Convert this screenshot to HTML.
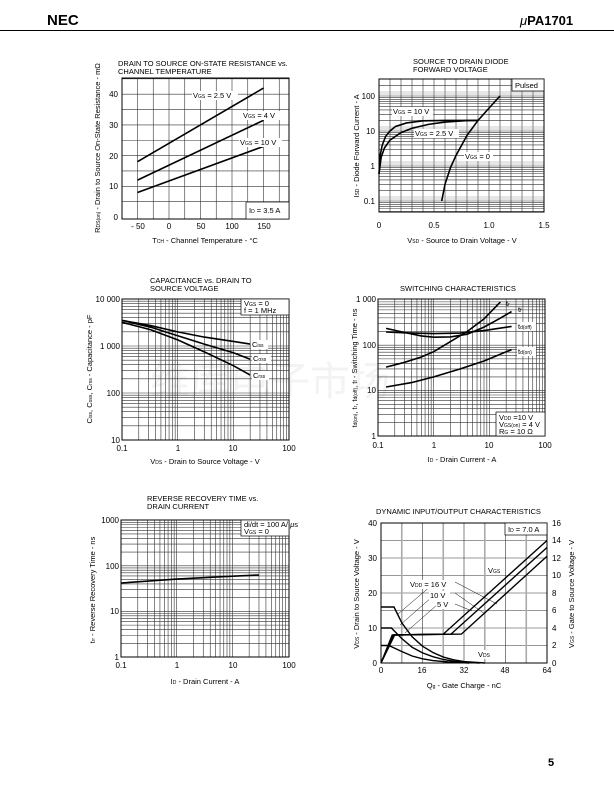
<!DOCTYPE html>
<html><head><meta charset="utf-8"><style>
html,body{margin:0;padding:0;background:#fff}
svg{display:block;font-family:"Liberation Sans",Arial,sans-serif}
</style></head><body>
<svg width="614" height="792" viewBox="0 0 614 792" xmlns="http://www.w3.org/2000/svg">
<rect width="614" height="792" fill="#fff"/>
<text x="150" y="395" font-family="'Noto Sans CJK SC',sans-serif" font-size="40" fill="#f3f3f3">维库电子市场</text>

<g fill="none" stroke="#333" stroke-width="0.6">
<!-- Chart1 grid -->
<path d="M137.5,78V219M153.25,78V219M169,78V219M184.75,78V219M200.5,78V219M216.25,78V219M232,78V219M247.75,78V219M263.5,78V219M279.25,78V219
M122,201.65H289M122,186.3H289M122,170.95H289M122,155.6H289M122,140.25H289M122,124.9H289M122,109.55H289M122,94.2H289M122,78.85H289"/>
<!-- Chart2 grid -->
<path d="M390,79V212M401,79V212M412,79V212M423,79V212M434,79V212M445,79V212M456,79V212M467,79V212M478,79V212M489,79V212M500,79V212M511,79V212M522,79V212M533,79V212
M379,211.5H544M379,208.76H544M379,206.42H544M379,204.39H544M379,202.6H544M379,201H544M379,190.46H544M379,184.3H544M379,179.93H544M379,176.54H544M379,173.76H544M379,171.42H544M379,169.39H544M379,167.6H544
M379,166H544M379,155.46H544M379,149.3H544M379,144.93H544M379,141.54H544M379,138.76H544M379,136.42H544M379,134.39H544M379,132.6H544
M379,131H544M379,120.46H544M379,114.3H544M379,109.93H544M379,106.54H544M379,103.76H544M379,101.42H544M379,99.39H544M379,97.6H544M379,96H544M379,85.46H544"/>
<!-- Chart3 grid -->
<path d="M138.77,299V440M148.57,299V440M155.53,299V440M160.93,299V440M165.34,299V440M169.07,299V440M172.3,299V440M175.15,299V440M177.7,299V440M194.47,299V440M204.27,299V440M211.23,299V440M216.63,299V440M221.04,299V440M224.77,299V440M228,299V440M230.85,299V440M233.4,299V440M250.17,299V440M259.97,299V440M266.93,299V440M272.33,299V440M276.74,299V440M280.47,299V440M283.7,299V440M286.55,299V440
M122,425.85H289M122,417.58H289M122,411.7H289M122,407.15H289M122,403.43H289M122,400.28H289M122,397.56H289M122,395.15H289M122,393H289M122,378.85H289M122,370.58H289M122,364.7H289M122,360.15H289M122,356.43H289M122,353.28H289M122,350.56H289M122,348.15H289M122,346H289M122,331.85H289M122,323.58H289M122,317.7H289M122,313.15H289M122,309.43H289M122,306.28H289M122,303.56H289M122,301.15H289"/>
<!-- Chart4 grid -->
<path d="M394.77,299V436M404.57,299V436M411.53,299V436M416.93,299V436M421.34,299V436M425.07,299V436M428.3,299V436M431.15,299V436M433.7,299V436M450.47,299V436M460.27,299V436M467.23,299V436M472.63,299V436M477.04,299V436M480.77,299V436M484,299V436M486.85,299V436M489.4,299V436M506.17,299V436M515.97,299V436M522.93,299V436M528.33,299V436M532.74,299V436M536.47,299V436M539.7,299V436M542.55,299V436
M378,422.33H545M378,414.34H545M378,408.67H545M378,404.27H545M378,400.67H545M378,397.63H545M378,395H545M378,392.68H545M378,390.6H545M378,376.93H545M378,368.94H545M378,363.27H545M378,358.87H545M378,355.27H545M378,352.23H545M378,349.6H545M378,347.28H545M378,345.2H545M378,331.53H545M378,323.54H545M378,317.87H545M378,313.47H545M378,309.87H545M378,306.83H545M378,304.2H545M378,301.88H545"/>
<!-- Chart5 grid -->
<path d="M137.77,520V657M147.57,520V657M154.53,520V657M159.93,520V657M164.34,520V657M168.07,520V657M171.3,520V657M174.15,520V657M176.7,520V657M193.47,520V657M203.27,520V657M210.23,520V657M215.63,520V657M220.04,520V657M223.77,520V657M227,520V657M229.85,520V657M232.4,520V657M249.17,520V657M258.97,520V657M265.93,520V657M271.33,520V657M275.74,520V657M279.47,520V657M282.7,520V657M285.55,520V657
M121,643.27H289M121,635.24H289M121,629.55H289M121,625.13H289M121,621.52H289M121,618.46H289M121,615.82H289M121,613.49H289M121,611.4H289M121,597.67H289M121,589.64H289M121,583.95H289M121,579.53H289M121,575.92H289M121,572.86H289M121,570.22H289M121,567.89H289M121,565.8H289M121,552.07H289M121,544.04H289M121,538.35H289M121,533.93H289M121,530.32H289M121,527.26H289M121,524.62H289M121,522.29H289"/>
<!-- Chart6 grid -->
<path d="M422.5,523V663M464,523V663M505.5,523V663
M381,645.5H547M381,628H547M381,610.5H547M381,593H547M381,575.5H547M381,558H547M381,540.5H547"/>
<path stroke="#aaa" stroke-width="1.6" d="M401.75,523V663M443.26,523V663M484.76,523V663M526.26,523V663"/>
</g>
<!-- grey decade-adjacent bands -->
<g fill="none" stroke="#999" stroke-width="0.6">
<path d="M379,94H544M379,92H544M379,129H544M379,127H544M379,164H544M379,162H544M379,199H544M379,197H544"/>
</g>
<!-- frames -->
<g fill="none" stroke="#000" stroke-width="1">
<rect x="122" y="78" width="167" height="141"/>
<rect x="379" y="79" width="165" height="133"/>
<rect x="122" y="299" width="167" height="141"/>
<rect x="378" y="299" width="167" height="137"/>
<rect x="121" y="520" width="168" height="137"/>
<rect x="381" y="523" width="166" height="140"/>
</g>
<!-- curves -->
<g fill="none" stroke="#000" stroke-width="1.6">
<path d="M137.5,161.74L263.5,88.06M137.5,180.16L263.5,120.3M137.5,192.44L263.5,146.39"/>
<path d="M379,173.76L380.1,155.46L382.3,144.93L385.6,136.42L390,131L395.5,126.44L406.5,122.93L423,120.85L445,120.46L478,120.46"/>
<path d="M379,173.76L381.2,157.06L384.5,147.85L390,140.09L401,132.6L412,128.23L428.5,124.35L445,122.06L467,120.6L478,120.46"/>
<path d="M441.7,201L445,184.3L450.5,167.6L456,155.46L467,135.37L478,120.46L489,108.14L500,96"/>
<path d="M122,320.4L151.1,325.7L177.7,331.9L204.3,337.1L233.4,341.4L250.2,344.1"/>
<path d="M122,320.4L151.1,327.3L177.7,335.8L204.3,344.1L233.4,352.7L250.2,359.3"/>
<path d="M122,322.3L151.1,329.9L177.7,339.9L204.3,351.9L233.4,365.7L250.2,375.1"/>
<path d="M386.1,367.1L404.6,362.3L421.3,357L433.7,351.7L450.5,341.6L467.2,331.5L484,318.9L500.4,301.9"/>
<path d="M386.1,328.4L404.6,332.5L421.3,335.9L433.7,337.2L450.5,336.9L467.2,334.2L484,327.1L498.9,318.9L511.6,311.6"/>
<path d="M386.1,332L404.6,332.8L433.7,333.6L460.3,333.1L484,330.6L511.6,326.4"/>
<path d="M386.1,387L411.5,382.6L433.7,376.9L460.3,368.9L484,361L511.6,349.6"/>
<path d="M121,583L176.7,579.1L232.4,576.2L259,575"/>
<g stroke-width="1.4">
<path d="M381,663L392.2,635L443.3,634.1L547,540.5"/>
<path d="M381,663L393.5,635L451,634.1L547,547.5"/>
<path d="M381,663L394.7,635L461.4,634.1L547,556.25"/>
<path d="M381,607H394C398,615 401.75,622.75 401.75,622.75L412.1,636.75L422.5,646.2L432.9,652.5L443.3,657.05L453.6,659.85L464,661.6L484.8,663"/>
<path d="M381,628H391.4L401.75,638.5L412.1,647.25L422.5,652.85L432.9,656.7L443.3,659.5L453.6,661.25L464,662.3L479.6,663"/>
<path d="M381,645.5H388.8L401.75,651.45L412.1,656L422.5,658.8L432.9,660.55L448.4,662L469.2,663"/>
</g>
</g>
<g stroke="#000" stroke-width="0.5"><line x1="432" y1="585" x2="398" y2="614"/><line x1="432" y1="597" x2="400" y2="625"/><line x1="438" y1="604" x2="405" y2="633"/><line x1="455" y1="582" x2="497" y2="604"/><line x1="455" y1="593" x2="485" y2="614"/><line x1="455" y1="604" x2="472" y2="611"/></g>

<!-- header -->
<text x="47" y="25" font-size="15" font-weight="bold">NEC</text>
<text x="520" y="25" font-size="13" font-weight="bold"><tspan font-style="italic" font-weight="normal">μ</tspan>PA1701</text>
<line x1="0" y1="30.5" x2="614" y2="30.5" stroke="#000" stroke-width="1"/>
<text x="548" y="766" font-size="11" font-weight="bold">5</text>

<g font-size="7.5" fill="#000">
<text x="118" y="66">DRAIN TO SOURCE ON-STATE RESISTANCE vs.</text>
<text x="118" y="74">CHANNEL TEMPERATURE</text>
<g text-anchor="end" font-size="8"><text x="118" y="97">40</text><text x="118" y="128">30</text><text x="118" y="159">20</text><text x="118" y="189">10</text><text x="118" y="220">0</text></g>
<g text-anchor="middle" font-size="8"><text x="138" y="229">- 50</text><text x="169" y="229">0</text><text x="201" y="229">50</text><text x="232" y="229">100</text><text x="264" y="229">150</text></g>
<text x="205" y="243" text-anchor="middle">T<tspan font-size="5">CH</tspan> - Channel Temperature - °C</text>
<text transform="translate(100,148) rotate(-90)" text-anchor="middle">R<tspan font-size="5">DS(on)</tspan> - Drain to Source On-State Resistance - mΩ</text>

<text x="413" y="64">SOURCE TO DRAIN DIODE</text>
<text x="413" y="72">FORWARD VOLTAGE</text>
<g text-anchor="end" font-size="8"><text x="375" y="99">100</text><text x="375" y="134">10</text><text x="375" y="169">1</text><text x="375" y="204">0.1</text></g>
<g text-anchor="middle" font-size="8"><text x="379" y="228">0</text><text x="434" y="228">0.5</text><text x="489" y="228">1.0</text><text x="544" y="228">1.5</text></g>
<text x="462" y="243" text-anchor="middle">V<tspan font-size="5">SD</tspan> - Source to Drain Voltage - V</text>
<text transform="translate(359,146) rotate(-90)" text-anchor="middle">I<tspan font-size="5">SD</tspan> - Diode Forward Current - A</text>

<text x="150" y="283">CAPACITANCE vs. DRAIN TO</text>
<text x="150" y="291">SOURCE VOLTAGE</text>
<g text-anchor="end" font-size="8"><text x="120" y="302">10 000</text><text x="120" y="349">1 000</text><text x="120" y="396">100</text><text x="120" y="443">10</text></g>
<g text-anchor="middle" font-size="8"><text x="122" y="451">0.1</text><text x="178" y="451">1</text><text x="233" y="451">10</text><text x="289" y="451">100</text></g>
<text x="205" y="464" text-anchor="middle">V<tspan font-size="5">DS</tspan> - Drain to Source Voltage - V</text>
<text transform="translate(92,369) rotate(-90)" text-anchor="middle">C<tspan font-size="5">iss</tspan>, C<tspan font-size="5">oss</tspan>, C<tspan font-size="5">rss</tspan> - Capacitance - pF</text>

<text x="400" y="291">SWITCHING CHARACTERISTICS</text>
<g text-anchor="end" font-size="8"><text x="376" y="302">1 000</text><text x="376" y="348">100</text><text x="376" y="393">10</text><text x="376" y="439">1</text></g>
<g text-anchor="middle" font-size="8"><text x="378" y="448">0.1</text><text x="434" y="448">1</text><text x="489" y="448">10</text><text x="545" y="448">100</text></g>
<text x="462" y="462" text-anchor="middle">I<tspan font-size="5">D</tspan> - Drain Current - A</text>
<text transform="translate(357,368) rotate(-90)" text-anchor="middle">t<tspan font-size="5">d(on)</tspan>, t<tspan font-size="5">r</tspan>, t<tspan font-size="5">d(off)</tspan>, t<tspan font-size="5">f</tspan> - Switching Time - ns</text>

<text x="147" y="501">REVERSE RECOVERY TIME vs.</text>
<text x="147" y="509">DRAIN CURRENT</text>
<g text-anchor="end" font-size="8"><text x="119" y="523">1000</text><text x="119" y="569">100</text><text x="119" y="614">10</text><text x="119" y="660">1</text></g>
<g text-anchor="middle" font-size="8"><text x="121" y="668">0.1</text><text x="177" y="668">1</text><text x="233" y="668">10</text><text x="289" y="668">100</text></g>
<text x="205" y="684" text-anchor="middle">I<tspan font-size="5">D</tspan> - Drain Current - A</text>
<text transform="translate(95,590) rotate(-90)" text-anchor="middle">t<tspan font-size="5">rr</tspan> - Reverse Recovery  Time - ns</text>

<text x="376" y="514">DYNAMIC INPUT/OUTPUT CHARACTERISTICS</text>
<g text-anchor="end" font-size="8"><text x="377" y="526">40</text><text x="377" y="561">30</text><text x="377" y="596">20</text><text x="377" y="631">10</text><text x="377" y="666">0</text></g>
<g font-size="8"><text x="552" y="526">16</text><text x="552" y="543">14</text><text x="552" y="561">12</text><text x="552" y="578">10</text><text x="552" y="596">8</text><text x="552" y="613">6</text><text x="552" y="631">4</text><text x="552" y="648">2</text><text x="552" y="666">0</text></g>
<g text-anchor="middle" font-size="8"><text x="381" y="673">0</text><text x="422" y="673">16</text><text x="464" y="673">32</text><text x="505" y="673">48</text><text x="547" y="673">64</text></g>
<text x="464" y="688" text-anchor="middle">Q<tspan font-size="5">g</tspan> - Gate Charge - nC</text>
<text transform="translate(359,594) rotate(-90)" text-anchor="middle">V<tspan font-size="5">DS</tspan> - Drain to Source Voltage - V</text>
<text transform="translate(574,594) rotate(-90)" text-anchor="middle">V<tspan font-size="5">GS</tspan> - Gate to Source Voltage - V</text>
</g>

<!-- in-plot labels -->
<g font-size="7.5">
<rect x="192" y="91" width="46" height="9" fill="#fff"/><text x="193" y="98">V<tspan font-size="5">GS</tspan> = 2.5 V</text>
<rect x="242" y="111" width="39" height="9" fill="#fff"/><text x="243" y="118">V<tspan font-size="5">GS</tspan> = 4 V</text>
<rect x="239" y="138" width="43" height="9" fill="#fff"/><text x="240" y="145">V<tspan font-size="5">GS</tspan> = 10 V</text>
<rect x="246" y="202" width="43" height="17" fill="#fff" stroke="#000" stroke-width="0.7"/><text x="249" y="213">I<tspan font-size="5">D</tspan> = 3.5 A</text>

<rect x="512" y="79" width="32" height="12" fill="#fff" stroke="#000" stroke-width="0.7"/><text x="515" y="88">Pulsed</text>
<rect x="392" y="107" width="41" height="9" fill="#fff"/><text x="393" y="114">V<tspan font-size="5">GS</tspan> = 10 V</text>
<rect x="414" y="129" width="45" height="9" fill="#fff"/><text x="415" y="136">V<tspan font-size="5">GS</tspan> = 2.5 V</text>
<rect x="464" y="152" width="29" height="9" fill="#fff"/><text x="465" y="159">V<tspan font-size="5">GS</tspan> = 0</text>

<rect x="241" y="299" width="48" height="16" fill="#fff" stroke="#000" stroke-width="0.7"/><text x="244" y="306">V<tspan font-size="5">GS</tspan> = 0</text><text x="244" y="313">f = 1 MHz</text>
<rect x="251" y="340" width="17" height="9" fill="#fff"/><text x="252" y="347">C<tspan font-size="5">iss</tspan></text>
<rect x="252" y="354" width="19" height="9" fill="#fff"/><text x="253" y="361">C<tspan font-size="5">oss</tspan></text>
<rect x="252" y="371" width="17" height="9" fill="#fff"/><text x="253" y="378">C<tspan font-size="5">rss</tspan></text>

<text x="506" y="306">t<tspan font-size="5">r</tspan></text>
<text x="518" y="312">t<tspan font-size="5">f</tspan></text>
<rect x="517" y="322" width="19" height="9" fill="#fff"/><text x="518" y="329">t<tspan font-size="5">d(off)</tspan></text>
<rect x="517" y="347" width="19" height="9" fill="#fff"/><text x="518" y="354">t<tspan font-size="5">d(on)</tspan></text>
<rect x="496" y="412" width="49" height="24" fill="#fff" stroke="#000" stroke-width="0.7"/><text x="499" y="420">V<tspan font-size="5">DD</tspan> =10 V</text><text x="499" y="427">V<tspan font-size="5">GS(on)</tspan> = 4 V</text><text x="499" y="434">R<tspan font-size="5">G</tspan> = 10 Ω</text>

<rect x="241" y="520" width="48" height="16" fill="#fff" stroke="#000" stroke-width="0.7"/><text x="244" y="527">di/dt = 100 A/ <tspan font-style="italic">μ</tspan>s</text><text x="244" y="534">V<tspan font-size="5">GS</tspan> = 0</text>

<rect x="505" y="523" width="42" height="12" fill="#fff" stroke="#000" stroke-width="0.7"/><text x="508" y="532">I<tspan font-size="5">D</tspan> = 7.0 A</text>
<rect x="487" y="566" width="17" height="9" fill="#fff"/><text x="488" y="573">V<tspan font-size="5">GS</tspan></text>
<rect x="409" y="580" width="45" height="9" fill="#fff"/><text x="410" y="587">V<tspan font-size="5">DD</tspan> = 16 V</text>
<rect x="429" y="591" width="21" height="9" fill="#fff"/><text x="430" y="598">10 V</text>
<rect x="436" y="600" width="16" height="9" fill="#fff"/><text x="437" y="607">5 V</text>
<rect x="477" y="650" width="17" height="9" fill="#fff"/><text x="478" y="657">V<tspan font-size="5">DS</tspan></text>
</g>
</svg>
</body></html>
